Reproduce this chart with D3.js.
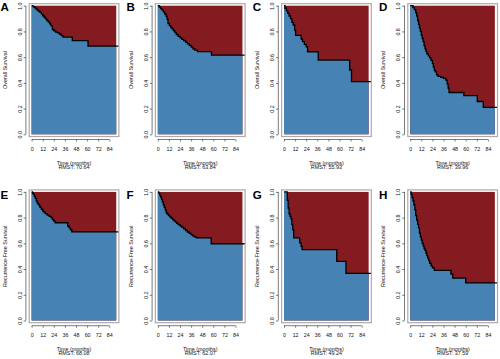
<!DOCTYPE html>
<html><head><meta charset="utf-8">
<script src="https://cdn.jsdelivr.net/npm/d3@7"></script>
<style>html,body{margin:0;padding:0;background:#fff;}svg{display:block;}</style>
</head><body>
<script>
// ---------- data ----------
const panelLabels = ["A","B","C","D","E","F","G","H"];
const yTitles = ["Overall Survival","Recurrence-Free Survival"];
const xTitle = "Time (months)";
const rmstValues = ["70.64","63.84","55.93","39.96","68.08","62.07","49.24","37.59"];
const xTicks = [0,12,24,36,48,60,72,84];
const yTicks = [0,0.2,0.4,0.6,0.8,1.0];

const timesA = [0,1.5,3,4.5,6,7.5,9,10.5,12,13.5,15,16.5,18,19.5,21,22.5,24,26,28,30,32,34,44,61];
const survA  = [1,.993,.985,.975,.966,.957,.948,.935,.922,.91,.898,.885,.872,.858,.843,.815,.805,.795,.788,.78,.768,.756,.728,.686];

const timesB = [0,1.5,3,4.5,6,7.5,9,10,11,12.5,14,15.5,17,18.5,20,22,24,26,28,30,32,34,36,38,40,43,58];
const survB  = [1,.99,.978,.966,.952,.935,.918,.895,.86,.845,.83,.818,.804,.79,.776,.762,.75,.738,.728,.716,.704,.692,.678,.664,.654,.643,.615];

const timesC = [0,1,2.5,4,5.5,7,8.5,10,11.5,12.5,18.5,20,22,24,25.5,37,71,73];
const survC  = [1,.98,.96,.94,.92,.9,.87,.85,.81,.77,.74,.72,.7,.68,.642,.577,.5,.41];

const timesD = [0,3,4.5,6,7,8,9,10,11,12,13,14,15,16,17,18,19.5,21,22.5,24,25,26,27,28.5,30,33,36,38.5,40,41,42,58,72.5,79];
const survD  = [1,.985,.97,.945,.92,.885,.855,.825,.8,.77,.745,.72,.69,.665,.645,.625,.61,.595,.575,.55,.525,.5,.485,.462,.45,.442,.435,.422,.39,.36,.325,.3,.255,.21];

const timesE = [0,1,2,3,4,5,6,7,8,9,10.5,12,13.5,15,17,19,21,22.5,24,25.5,39,40.5,42,43.5];
const survE  = [1,.99,.98,.965,.95,.93,.915,.905,.895,.88,.865,.85,.84,.83,.82,.81,.8,.785,.772,.76,.735,.72,.705,.689];

const timesF = [0,1,2,3,4,5,6,7,8,9,10,11.5,13,14.5,16,17.5,19,20.5,22,24,26,28,30,32,34,36,38,40,42,57.7];
const survF  = [1,.99,.975,.96,.94,.92,.9,.88,.86,.84,.828,.816,.806,.795,.785,.775,.765,.755,.745,.735,.724,.712,.7,.688,.677,.666,.656,.648,.642,.597];

const timesG = [0,3.5,4.5,5.5,6.5,7.5,8.5,9.5,10.5,17,18.5,19.5,57,67];
const survG  = [1,.935,.875,.83,.81,.79,.745,.705,.642,.603,.577,.551,.46,.367];

const timesH = [0,1,2,3,4,5,6,7,8,9,10,11,12,13,14,15,16,17,18,19,20,21,22.5,24,26,44,46,60];
const survH  = [1,.98,.955,.93,.9,.86,.815,.78,.75,.72,.68,.65,.625,.6,.58,.56,.545,.525,.505,.485,.465,.445,.425,.41,.39,.36,.33,.292];

const panelTimes = [timesA,timesB,timesC,timesD,timesE,timesF,timesG,timesH];
const panelSurv  = [survA,survB,survC,survD,survE,survF,survG,survH];
const followUpEnd = 91.5;

// ---------- layout ----------
const W = 500, H = 359;
const colX0 = [31.6, 157.8, 284.0, 410.2];
const rowY0 = [134.3, 320.5];
const xSpan = 77.7, ySpan = 128.6;
const blue = "#4682b4", red = "#831b21";
const font = "'Liberation Sans', Arial, Helvetica, sans-serif";

const svg = d3.select("body").append("svg").attr("width", W).attr("height", H);

panelLabels.forEach((lab, i) => {
  const col = i % 4, row = Math.floor(i / 4);
  const x = d3.scaleLinear().domain([0, 84]).range([colX0[col], colX0[col] + xSpan]);
  const y = d3.scaleLinear().domain([0, 1]).range([rowY0[row], rowY0[row] - ySpan]);
  const g = svg.append("g");
  const times = panelTimes[i], surv = panelSurv[i];
  const pts = times.map((t, k) => [t, surv[k]]);

  const boxL = x(0) - 2.4, boxR = x(0) + 87.3, boxT = y(1) - 2, boxB = y(0) + 2.2;

  // red background (event area)
  g.append("rect").attr("x", x(0)).attr("y", y(1))
    .attr("width", x(followUpEnd) - x(0)).attr("height", y(0) - y(1)).attr("fill", red);

  // blue area under survival step curve
  const areaPts = pts.concat([[followUpEnd, surv[surv.length - 1]]]);
  const area = d3.area().curve(d3.curveStepAfter)
    .x(d => x(d[0])).y0(y(0)).y1(d => y(d[1]));
  g.append("path").attr("d", area(areaPts)).attr("fill", blue);

  // step line
  const tEndLine = x.invert(boxR);
  const linePts = pts.concat([[tEndLine, surv[surv.length - 1]]]);
  const line = d3.line().curve(d3.curveStepAfter).x(d => x(d[0])).y(d => y(d[1]));
  g.append("path").attr("d", line(linePts)).attr("fill", "none")
    .attr("stroke", "#000").attr("stroke-width", 1.3);

  // plot frame
  g.append("rect").attr("x", boxL).attr("y", boxT)
    .attr("width", boxR - boxL).attr("height", boxB - boxT)
    .attr("fill", "none").attr("stroke", "#aaaaaa").attr("stroke-width", 1.2);

  // x axis
  const xAxisY = y(0) + 5.2;
  const xa = g.append("g").attr("transform", `translate(0,${xAxisY})`)
    .call(d3.axisBottom(x).tickValues(xTicks).tickSize(2).tickPadding(9).tickFormat(d3.format("d")));
  xa.select(".domain").attr("stroke", "#222").attr("stroke-width", 0.6).attr("d", `M${x(0)},0H${x(84)}`);
  xa.selectAll(".tick line").attr("stroke", "#222").attr("stroke-width", 0.6);
  xa.selectAll(".tick text").attr("font-family", font).attr("font-size", 5.3).attr("fill", "#111")
    .attr("dy", null).attr("y", 11.8);

  // y axis
  const yAxisX = x(0) - 5.7;
  const ya = g.append("g").attr("transform", `translate(${yAxisX},0)`)
    .call(d3.axisLeft(y).tickValues(yTicks).tickSize(2.3).tickFormat(d3.format(".1f")));
  ya.select(".domain").attr("stroke", "#222").attr("stroke-width", 0.6).attr("d", `M0,${y(0)}V${y(1)}`);
  ya.selectAll(".tick line").attr("stroke", "#222").attr("stroke-width", 0.6);
  ya.selectAll(".tick text").attr("font-family", font).attr("font-size", 5.3).attr("fill", "#111")
    .attr("x", null).attr("dy", null).attr("text-anchor", "middle")
    .attr("transform", "translate(-6,0) rotate(-90)").attr("y", 1.9);

  // axis titles
  g.append("text").attr("transform", `translate(${x(0) - 26.6},${(y(0) + y(1)) / 2}) rotate(-90)`)
    .attr("text-anchor", "middle").attr("dy", "0.35em")
    .attr("font-family", font).attr("font-size", 5.4).attr("fill", "#111").text(yTitles[row]);
  const cx = (boxL + boxR) / 2;
  g.append("text").attr("x", cx).attr("y", y(0) + 30.2).attr("text-anchor", "middle")
    .attr("font-family", font).attr("font-size", 5.4).attr("fill", "#111").text(xTitle);
  g.append("text").attr("x", cx).attr("y", y(0) + 34.8).attr("text-anchor", "middle")
    .attr("font-family", font).attr("font-size", 5.4).attr("fill", "#111").text("RMST: " + rmstValues[i]);

  // panel letter
  g.append("text").attr("x", colX0[col] - 31.2).attr("y", row === 0 ? 11 : 199)
    .attr("font-family", font).attr("font-weight", "bold").attr("font-size", 11.6)
    .attr("fill", "#000").text(lab);
});
</script>
</body></html>
